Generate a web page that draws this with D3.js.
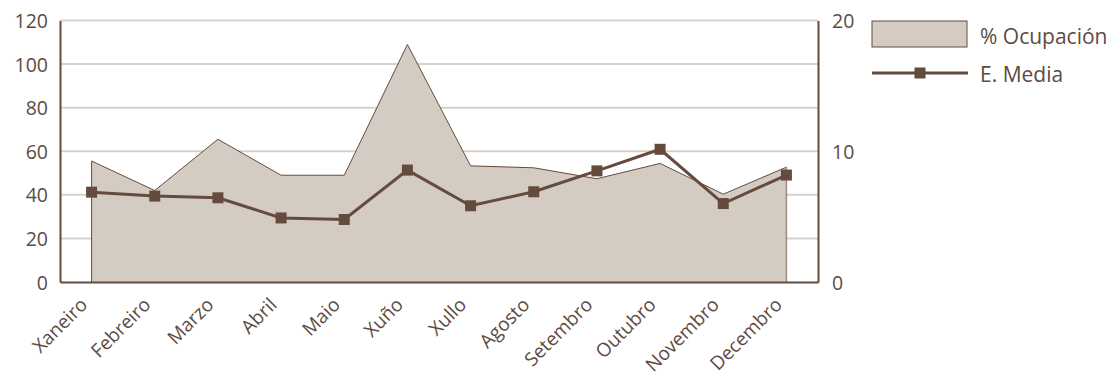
<!DOCTYPE html>
<html>
<head>
<meta charset="utf-8">
<script src="https://cdn.jsdelivr.net/npm/d3@7"></script>
<style>
  html, body { margin: 0; padding: 0; background: #fff; }
  svg { display: block; }
  text { font-family: "Open Sans", "DejaVu Sans", sans-serif; fill: #5e4b3f; }
</style>
</head>
<body>
<svg id="chart" width="1120" height="380"></svg>
<script>
// Monthly occupancy (%) and average stay
const months = ["Xaneiro", "Febreiro", "Marzo", "Abril", "Maio", "Xuño",
                "Xullo", "Agosto", "Setembro", "Outubro", "Novembro", "Decembro"];
const ocupacion = [55.5, 42, 65.5, 49, 49, 109, 53.3, 52.4, 47.4, 54.4, 40.3, 52.7];
const estadiaMedia = [6.87, 6.57, 6.44, 4.9, 4.78, 8.56, 5.83, 6.9, 8.5, 10.15, 6.0, 8.18];
const leftTicks = [0, 20, 40, 60, 80, 100, 120];
const rightTicks = [0, 10, 20];
const seriesNames = ["% Ocupación", "E. Media"];

const svg = d3.select("#chart");
const m = { left: 60, right: 818, top: 20.5, bottom: 282 };

const fillCol = "#d4ccc2", darkCol = "#654b3d", gridCol = "#d9d1c7";

const x = d3.scaleBand().domain(months).range([m.left, m.right]);
const cx = d => x(d) + x.bandwidth() / 2;
const yL = d3.scaleLinear().domain([0, 120]).range([m.bottom, m.top]);
const yR = d3.scaleLinear().domain([0, 20]).range([m.bottom, m.top]);

// horizontal gridlines
svg.append("g").selectAll("line").data(leftTicks.filter(t => t > 0)).join("line")
  .attr("x1", m.left).attr("x2", m.right)
  .attr("y1", d => yL(d)).attr("y2", d => yL(d))
  .attr("stroke", gridCol).attr("stroke-width", 2);

// occupancy area
const area = d3.area().x((d, i) => cx(months[i])).y0(yL(0)).y1(d => yL(d));
svg.append("path").datum(ocupacion).attr("d", area).attr("fill", fillCol);
const outline = d3.line().x(d => d[0]).y(d => d[1]);
const first = cx(months[0]), last = cx(months[months.length - 1]);
svg.append("path")
  .datum([[first, yL(0)], ...ocupacion.map((v, i) => [cx(months[i]), yL(v)])])
  .attr("d", outline).attr("fill", "none").attr("stroke", darkCol).attr("stroke-width", 1);
svg.append("line")
  .attr("x1", last).attr("x2", last)
  .attr("y1", yL(ocupacion[ocupacion.length - 1])).attr("y2", yL(0))
  .attr("stroke", "#9c8c80").attr("stroke-width", 1.5);

// average stay line
const line = d3.line().x((d, i) => cx(months[i])).y(d => yR(d));
svg.append("path").datum(estadiaMedia).attr("d", line)
  .attr("fill", "none").attr("stroke", darkCol).attr("stroke-width", 3);
const ms = 11;
svg.append("g").selectAll("rect").data(estadiaMedia).join("rect")
  .attr("x", (d, i) => cx(months[i]) - ms / 2).attr("y", d => yR(d) - ms / 2)
  .attr("width", ms).attr("height", ms).attr("fill", darkCol);

// axes
const axisL = svg.append("g").attr("transform", `translate(${m.left},0)`)
  .call(d3.axisLeft(yL).tickValues(leftTicks).tickSize(0).tickPadding(12));
const axisR = svg.append("g").attr("transform", `translate(${m.right},0)`)
  .call(d3.axisRight(yR).tickValues(rightTicks).tickSize(0).tickPadding(14));
const axisB = svg.append("g").attr("transform", `translate(0,${m.bottom})`)
  .call(d3.axisBottom(x).tickSize(0).tickPadding(0));
[axisL, axisR, axisB].forEach(a => {
  a.select(".domain").attr("stroke", darkCol).attr("stroke-width", 2);
  a.selectAll("text").style("font-family", "'Open Sans', sans-serif").attr("fill", "#5e4b3f");
});
axisL.selectAll("text").style("font-size", "19.5px").attr("dy", "0.36em");
axisR.selectAll("text").style("font-size", "19.5px").attr("dy", "0.36em");
axisB.selectAll("text")
  .style("font-size", "19px")
  .attr("text-anchor", "end")
  .attr("dy", 0)
  .attr("transform", "translate(-3,24) rotate(-45)");

// legend
const lg = svg.append("g");
lg.append("rect").attr("x", 872).attr("y", 21).attr("width", 95).attr("height", 26)
  .attr("fill", fillCol).attr("stroke", darkCol).attr("stroke-width", 1);
lg.append("text").attr("x", 980).attr("y", 44).style("font-size", "21px").text(seriesNames[0]);
lg.append("line").attr("x1", 872).attr("x2", 968).attr("y1", 73).attr("y2", 73)
  .attr("stroke", darkCol).attr("stroke-width", 3);
lg.append("rect").attr("x", 920 - ms / 2).attr("y", 73 - ms / 2).attr("width", ms).attr("height", ms)
  .attr("fill", darkCol);
lg.append("text").attr("x", 980).attr("y", 81.5).style("font-size", "21px").text(seriesNames[1]);
</script>
</body>
</html>
